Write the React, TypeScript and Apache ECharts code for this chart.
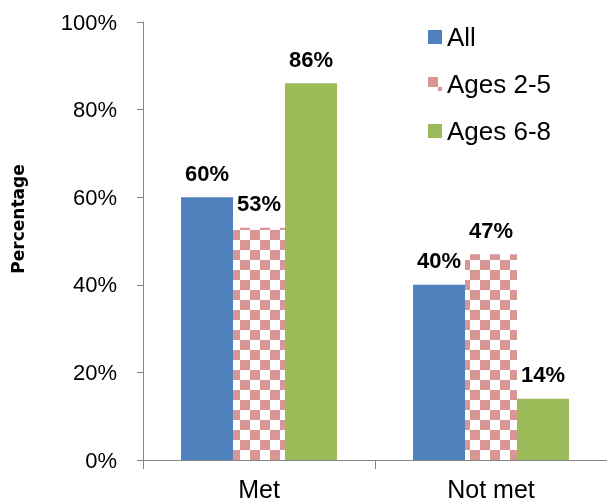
import React, { useEffect, useRef } from "react";
import * as echarts from "echarts";

const categories = ["Met", "Not met"];
const seriesNames = ["All", "Ages 2-5", "Ages 6-8"];
const allValues = [60, 40];
const ages25Values = [53, 47];
const ages68Values = [86, 14];
const yTicks = [0, 20, 40, 60, 80, 100];
const yTitle = "Percentage";

function makeChecker(): string {
  const s = 10;
  const c = document.createElement("canvas");
  c.width = s * 2;
  c.height = s * 2;
  const ctx = c.getContext("2d")!;
  ctx.fillStyle = "#ffffff";
  ctx.fillRect(0, 0, s * 2, s * 2);
  ctx.fillStyle = "#DA9694";
  ctx.fillRect(0, 0, s, s);
  ctx.fillRect(s, s, s, s);
  return c.toDataURL();
}

export default function App() {
  const ref = useRef<HTMLDivElement>(null);
  useEffect(() => {
    const chart = echarts.init(ref.current!, undefined, { renderer: "svg" });
    const checker = { image: makeChecker(), repeat: "repeat" } as any;
    const font = "Arial, 'Liberation Sans', sans-serif";
    const label = {
      show: true,
      position: "top",
      distance: 13,
      formatter: "{c}%",
      fontFamily: font,
      fontSize: 22,
      fontWeight: "bold",
      color: "#000",
    };
    chart.setOption({
      animation: false,
      textStyle: { fontFamily: font },
      grid: { left: 143, right: 0, top: 22, bottom: 42 },
      graphic: [
        {
          type: "text",
          x: 18,
          y: 219,
          rotation: Math.PI / 2,
          style: {
            text: yTitle,
            fontFamily: "'DejaVu Sans', sans-serif",
            fontSize: 17,
            fontWeight: "bold",
            fill: "#000",
            align: "center",
            verticalAlign: "middle",
          },
        },
      ],
      legend: {
        orient: "vertical",
        left: 423,
        top: 19,
        itemWidth: 14,
        itemHeight: 14,
        itemGap: 21,
        icon: "rect",
        textStyle: { fontFamily: font, fontSize: 26, color: "#000" },
        data: seriesNames,
      },
      xAxis: {
        type: "category",
        data: categories,
        axisLine: { lineStyle: { color: "#868686", width: 1 } },
        axisTick: { show: true, length: 9, lineStyle: { color: "#868686" } },
        axisLabel: { fontFamily: font, fontSize: 25, color: "#000", margin: 16 },
      },
      yAxis: {
        type: "value",
        min: 0,
        max: 100,
        interval: 20,
        splitLine: { show: false },
        axisLine: { show: true, lineStyle: { color: "#868686", width: 1 } },
        axisTick: { show: true, length: 6, lineStyle: { color: "#868686" } },
        axisLabel: {
          fontFamily: font,
          fontSize: 22,
          color: "#000",
          margin: 26,
          formatter: (v: number) => (yTicks.includes(v) ? v + "%" : ""),
        },
      },
      series: [
        {
          name: seriesNames[0],
          type: "bar",
          data: allValues,
          barWidth: 52,
          barGap: "0%",
          itemStyle: { color: "#4F81BD" },
          label,
        },
        {
          name: seriesNames[1],
          type: "bar",
          data: ages25Values,
          barWidth: 52,
          barGap: "0%",
          itemStyle: { color: checker },
          label,
        },
        {
          name: seriesNames[2],
          type: "bar",
          data: ages68Values,
          barWidth: 52,
          barGap: "0%",
          itemStyle: { color: "#9BBB59" },
          label,
        },
      ],
    });
    return () => chart.dispose();
  }, []);
  return (
    <div
      ref={ref}
      style={{ position: "fixed", left: 0, top: 0, width: 607, height: 502, overflow: "hidden" }}
    />
  );
}
